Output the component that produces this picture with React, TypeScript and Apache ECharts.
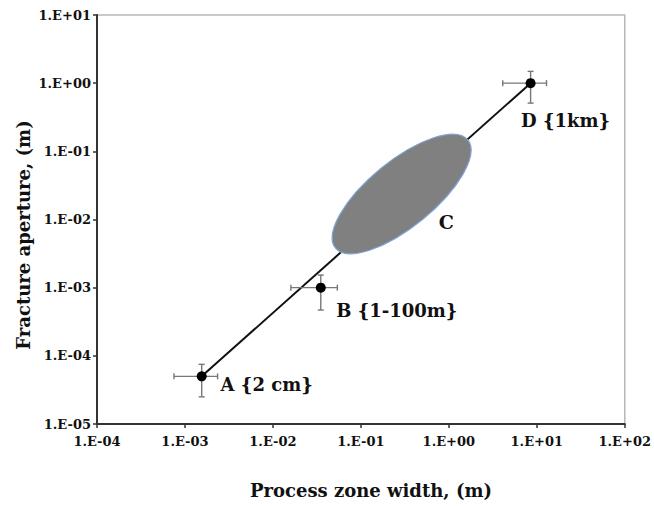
import React, { useEffect, useRef } from "react";
import * as echarts from "echarts";

// ---- data ----
const xTickLabels = ["1.E-04", "1.E-03", "1.E-02", "1.E-01", "1.E+00", "1.E+01", "1.E+02"];
const yTickLabels = ["1.E-05", "1.E-04", "1.E-03", "1.E-02", "1.E-01", "1.E+00", "1.E+01"];
const pointNames = ["A {2 cm}", "B {1-100m}", "D {1km}"];
const pointX = [1.55e-3, 0.035, 8.5];
const pointY = [5.0e-5, 1.0e-3, 1.0];
const errX = [8e-4, 0.019, 4.4];
const errY = [2.5e-5, 5.3e-4, 0.49];
// trend line end points (A to D)
const trendX = [1.55e-3, 8.5];
const trendY = [5.0e-5, 1.0];
// region C ellipse: major-axis tips and a minor-axis tip, in data units
const ellipseC = [0.0515, 3.82e-3, 1.64, 0.1466, 0.499, 0.00995];
const ellipseLabel = "C";

const FONT = '"DejaVu Serif", serif';
const labelOffsets = [
  [65, 8],
  [76, 23],
  [35, 37],
];

export default function App() {
  const ref = useRef<HTMLDivElement>(null);
  useEffect(() => {
    if (!ref.current) return;
    const chart = echarts.init(ref.current, null, { renderer: "svg" });
    const expLabel = (labels: string[], base: number) => (v: number) => {
      const e = Math.round(Math.log10(v));
      return labels[e - base] ?? "";
    };
    const option: any = {
      animation: false,
      backgroundColor: "#ffffff",
      grid: {
        left: 97,
        right: 26,
        top: 15,
        bottom: 82,
        show: true,
        borderColor: "#b8b8b8",
        borderWidth: 1.5,
        backgroundColor: "transparent",
      },
      xAxis: {
        type: "log",
        logBase: 10,
        min: 1e-4,
        max: 1e2,
        splitNumber: 6,
        axisLine: { show: true, onZero: false, lineStyle: { color: "#333", width: 2 } },
        axisTick: { show: true, length: 4, lineStyle: { color: "#333", width: 1.5 } },
        splitLine: { show: false },
        minorTick: { show: false },
        axisLabel: {
          margin: 11,
          fontFamily: FONT,
          fontWeight: "bold",
          fontSize: 13,
          color: "#111",
          formatter: expLabel(xTickLabels, -4),
        },
      },
      yAxis: {
        type: "log",
        logBase: 10,
        min: 1e-5,
        max: 10,
        splitNumber: 6,
        axisLine: { show: true, onZero: false, lineStyle: { color: "#333", width: 2 } },
        axisTick: { show: true, length: 4, lineStyle: { color: "#333", width: 1.5 } },
        splitLine: { show: false },
        minorTick: { show: false },
        axisLabel: {
          margin: 6,
          fontFamily: FONT,
          fontWeight: "bold",
          fontSize: 13,
          color: "#111",
          formatter: expLabel(yTickLabels, -5),
        },
      },
      graphic: [
        {
          type: "text",
          x: 23,
          y: 235,
          rotation: Math.PI / 2,
          style: {
            text: "Fracture aperture, (m)",
            font: `bold 18px ${FONT}`,
            fill: "#111",
            textAlign: "center",
            textVerticalAlign: "middle",
          },
        },
        {
          type: "text",
          x: 371,
          y: 490,
          style: {
            text: "Process zone width, (m)",
            font: `bold 18px ${FONT}`,
            fill: "#111",
            textAlign: "center",
            textVerticalAlign: "middle",
          },
        },
      ],
      series: [
        {
          type: "line",
          data: trendX.map((x, i) => [x, trendY[i]]),
          showSymbol: false,
          symbol: "none",
          lineStyle: { color: "#111", width: 2 },
          z: 1,
        },
        {
          type: "custom",
          z: 2,
          data: [ellipseC],
          renderItem: (params: any, api: any) => {
            const p1 = api.coord([api.value(0), api.value(1)]);
            const p2 = api.coord([api.value(2), api.value(3)]);
            const pm = api.coord([api.value(4), api.value(5)]);
            const cx = (p1[0] + p2[0]) / 2;
            const cy = (p1[1] + p2[1]) / 2;
            const a = Math.hypot(p2[0] - p1[0], p2[1] - p1[1]) / 2;
            const b = Math.hypot(pm[0] - cx, pm[1] - cy);
            const ang = Math.atan2(p2[1] - p1[1], p2[0] - p1[0]);
            return {
              type: "group",
              children: [
                {
                  type: "ellipse",
                  x: cx,
                  y: cy,
                  rotation: -ang,
                  shape: { cx: 0, cy: 0, rx: a, ry: b },
                  style: { fill: "#808080", stroke: "#7fa3d6", lineWidth: 1.2 },
                },
                {
                  type: "text",
                  x: pm[0] + 24,
                  y: pm[1] + 2,
                  style: {
                    text: ellipseLabel,
                    font: `bold 19px ${FONT}`,
                    fill: "#111",
                    textAlign: "center",
                    textVerticalAlign: "middle",
                  },
                },
              ],
            };
          },
        },
        {
          type: "custom",
          z: 3,
          data: pointX.map((x, i) => [x, pointY[i], errX[i], errY[i]]),
          renderItem: (params: any, api: any) => {
            const x = api.value(0);
            const y = api.value(1);
            const ex = api.value(2);
            const ey = api.value(3);
            const l = api.coord([x - ex, y]);
            const r = api.coord([x + ex, y]);
            const t = api.coord([x, y + ey]);
            const bt = api.coord([x, y - ey]);
            const c = 3;
            const st = { stroke: "#777", lineWidth: 1.4 };
            return {
              type: "group",
              children: [
                { type: "line", shape: { x1: l[0], y1: l[1], x2: r[0], y2: r[1] }, style: st },
                { type: "line", shape: { x1: l[0], y1: l[1] - c, x2: l[0], y2: l[1] + c }, style: st },
                { type: "line", shape: { x1: r[0], y1: r[1] - c, x2: r[0], y2: r[1] + c }, style: st },
                { type: "line", shape: { x1: t[0], y1: t[1], x2: bt[0], y2: bt[1] }, style: st },
                { type: "line", shape: { x1: t[0] - c, y1: t[1], x2: t[0] + c, y2: t[1] }, style: st },
                { type: "line", shape: { x1: bt[0] - c, y1: bt[1], x2: bt[0] + c, y2: bt[1] }, style: st },
              ],
            };
          },
        },
        {
          type: "scatter",
          z: 4,
          symbolSize: 10,
          itemStyle: { color: "#000", opacity: 1 },
          emphasis: { disabled: true },
          data: pointX.map((x, i) => ({
            value: [x, pointY[i]],
            label: {
              show: true,
              formatter: pointNames[i],
              position: "inside",
              align: "center",
              verticalAlign: "middle",
              offset: labelOffsets[i],
              fontFamily: FONT,
              fontWeight: "bold",
              fontSize: 18,
              color: "#111",
              opacity: 1,
            },
          })),
        },
      ],
    };
    chart.setOption(option);
    return () => chart.dispose();
  }, []);
  return (
    <div
      ref={ref}
      style={{ position: "fixed", left: 0, top: 0, width: 654, height: 506, background: "#fff" }}
    />
  );
}
